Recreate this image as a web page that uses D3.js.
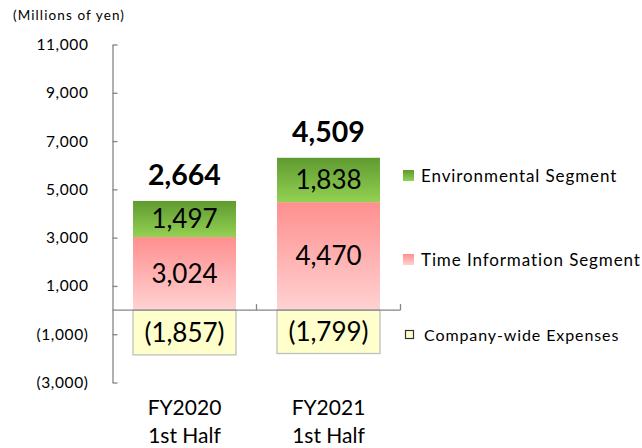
<!DOCTYPE html>
<html>
<head>
<meta charset="utf-8">
<script src="https://cdn.jsdelivr.net/npm/d3@7"></script>
<style>
  html, body { margin: 0; padding: 0; background: #fff; }
  svg { display: block; font-family: Lato, "Liberation Sans", sans-serif; }
</style>
</head>
<body>
<svg id="chart" width="642" height="448"></svg>
<script>
// Half-year operating income by segment (millions of yen)
const categories = [["FY2020", "1st Half"], ["FY2021", "1st Half"]];
const timeInfo = [3024, 4470];
const environmental = [1497, 1838];
const companyExpenses = [-1857, -1799];
const totals = [2664, 4509];
const yTicks = [11000, 9000, 7000, 5000, 3000, 1000, -1000, -3000];
const seriesNames = ["Environmental Segment", "Time Information Segment", "Company-wide Expenses"];

const fmt = v => v < 0 ? "(" + d3.format(",")(-v) + ")" : d3.format(",")(v);

const svg = d3.select("#chart");
const defs = svg.append("defs");

function vGrad(id, top, bottom) {
  const g = defs.append("linearGradient").attr("id", id)
    .attr("x1", 0).attr("y1", 0).attr("x2", 0).attr("y2", 1);
  g.append("stop").attr("offset", "0%").attr("stop-color", top);
  g.append("stop").attr("offset", "100%").attr("stop-color", bottom);
}
vGrad("gEnv", "#5f9a30", "#93d152");
vGrad("gTime", "#ff8f8f", "#ffd2d2");

const keys = categories.map(c => c.join(" "));
const x = d3.scaleBand().domain(keys).range([112.5, 400.5])
  .paddingInner(0.285).paddingOuter(0.1425);
const y = d3.scaleLinear().domain([-3000, 11000]).range([382.5, 44.5]);

const axisColor = "#868686";

// Y axis with ticks pointing into the plot
const yAxis = svg.append("g").attr("transform", `translate(${x.range()[0]},0)`)
  .call(d3.axisLeft(y).tickValues(yTicks).tickSizeInner(-5).tickSizeOuter(0).tickFormat(fmt));
yAxis.select(".domain").attr("stroke", axisColor).attr("stroke-width", 1.3);
yAxis.selectAll(".tick line").attr("stroke", axisColor).attr("stroke-width", 1.3);
yAxis.selectAll(".tick text").attr("x", -24).attr("fill", "#000")
  .attr("font-size", 15.5).attr("font-family", "Lato, sans-serif").attr("letter-spacing", 0.6);

// Stacked segments
const rows = keys.map((k, i) => ({ key: k, i }));
const bw = x.bandwidth();

const segs = [];
rows.forEach(r => {
  segs.push({ key: r.key, y0: 0, y1: timeInfo[r.i], v: timeInfo[r.i], fill: "url(#gTime)", stroke: "none" });
  segs.push({ key: r.key, y0: timeInfo[r.i], y1: timeInfo[r.i] + environmental[r.i], v: environmental[r.i], fill: "url(#gEnv)", stroke: "none" });
  segs.push({ key: r.key, y0: companyExpenses[r.i], y1: 0, v: companyExpenses[r.i], fill: "#ffffcc", stroke: "#bfbfbf" });
});

svg.append("g").selectAll("rect").data(segs).join("rect")
  .attr("x", d => x(d.key))
  .attr("width", bw)
  .attr("y", d => y(d.y1))
  .attr("height", d => y(d.y0) - y(d.y1))
  .attr("fill", d => d.fill)
  .attr("stroke", d => d.stroke)
  .attr("stroke-width", 1.3);

// Segment value labels
svg.append("g").selectAll("text").data(segs).join("text")
  .attr("x", d => x(d.key) + bw / 2)
  .attr("y", d => (y(d.y0) + y(d.y1)) / 2)
  .attr("dy", "0.36em")
  .attr("text-anchor", "middle")
  .attr("font-size", 26)
  .attr("fill", "#000")
  .text(d => fmt(d.v));

// Zero baseline with category separators
const x0 = x.range()[0], x1 = x.range()[1];
const zy = y(0);
svg.append("line").attr("x1", x0).attr("x2", x1).attr("y1", zy).attr("y2", zy)
  .attr("stroke", axisColor).attr("stroke-width", 1.3);
const seps = keys.map(k => x(k) + bw + x.step() * x.paddingInner() / 2);
svg.append("g").selectAll("line").data(seps).join("line")
  .attr("x1", d => d).attr("x2", d => d).attr("y1", zy).attr("y2", zy - 6)
  .attr("stroke", axisColor).attr("stroke-width", 1.3);

// Totals above each bar
svg.append("g").selectAll("text").data(rows).join("text")
  .attr("x", d => x(d.key) + bw / 2)
  .attr("y", d => y(timeInfo[d.i] + environmental[d.i]) - 16)
  .attr("text-anchor", "middle")
  .attr("font-size", 28.5)
  .attr("font-weight", "bold")
  .attr("fill", "#000")
  .text(d => fmt(totals[d.i]));

// Category labels
const cat = svg.append("g").selectAll("text").data(rows).join("text")
  .attr("x", d => x(d.key) + bw / 2)
  .attr("text-anchor", "middle")
  .attr("font-size", 21)
  .attr("fill", "#000");
cat.append("tspan").attr("x", d => x(d.key) + bw / 2).attr("y", 415).text(d => categories[d.i][0]);
cat.append("tspan").attr("x", d => x(d.key) + bw / 2).attr("y", 443).text(d => categories[d.i][1]);

// Units caption
svg.append("text").attr("x", 13).attr("y", 20).attr("font-size", 13.5).attr("letter-spacing", 1.1)
  .attr("fill", "#000").text("(Millions of yen)");

// Legend
const legend = [
  { name: seriesNames[0], fill: "url(#gEnv)", stroke: "none", sx: 403, sy: 170, s: 11, tx: 421, ty: 182, fs: 17 },
  { name: seriesNames[1], fill: "url(#gTime)", stroke: "none", sx: 403, sy: 254, s: 11, tx: 421, ty: 266, fs: 17 },
  { name: seriesNames[2], fill: "#ffffcc", stroke: "#333", sx: 405.5, sy: 330.5, s: 8, tx: 424, ty: 341, fs: 16 }
];
const lg = svg.append("g").selectAll("g").data(legend).join("g");
lg.append("rect").attr("x", d => d.sx).attr("y", d => d.sy).attr("width", d => d.s).attr("height", d => d.s)
  .attr("fill", d => d.fill).attr("stroke", d => d.stroke).attr("stroke-width", 1.2);
lg.append("text").attr("x", d => d.tx).attr("y", d => d.ty)
  .attr("font-size", d => d.fs)
  .attr("letter-spacing", 0.9)
  .attr("fill", "#000").text(d => d.name);
</script>
</body>
</html>
